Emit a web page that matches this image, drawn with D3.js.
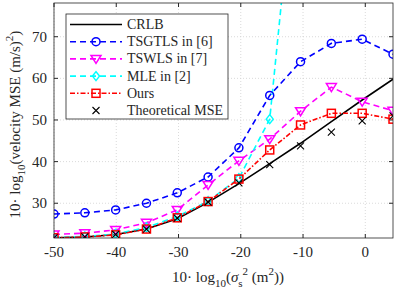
<!DOCTYPE html>
<html>
<head>
<meta charset="utf-8">
<script src="https://cdn.jsdelivr.net/npm/d3@7"></script>
<style>
  body { margin: 0; background: #fff; }
</style>
</head>
<body>
<div id="chart"></div>
<script>
// x positions of the simulation points (dB)
var xVals = [-50, -45.05, -40.1, -35.15, -30.2, -25.25, -20.3, -15.35, -10.4, -5.45, -0.5, 4.45]
var crlb = [21.7, 21.9, 22.5, 23.8, 26.3, 30.2, 34.7, 39.5, 44.4, 49.6, 54.8, 59.8]
var tsgtls = [27.4, 27.7, 28.4, 30.0, 32.5, 36.3, 43.3, 55.9, 64.0, 68.4, 69.4, 65.8]
var tswls = [22.5, 22.8, 23.6, 25.3, 28.4, 34.4, 40.2, 45.4, 52.1, 57.9, 54.4, 52.2]
var mle = [21.8, 22.0, 22.6, 24.2, 26.8, 30.5, 36.0, 50.2, 124, 130, 135, 140]
var ours = [21.7, 21.9, 22.4, 23.8, 26.5, 30.4, 35.8, 42.8, 48.8, 51.6, 51.6, 50.2]
var theo = [21.7, 21.9, 22.5, 23.8, 26.4, 30.3, 34.9, 39.3, 43.8, 47.1, 49.8, 51.0]
var xTicks = [-50, -40, -30, -20, -10, 0]
var yTicks = [30, 40, 50, 60, 70]

var FONT = "'Liberation Serif', 'Times New Roman', Times, 'DejaVu Serif', serif"
var W = 399, H = 291
var margin = {top: 3, right: 6, bottom: 53, left: 54}
var width = W - margin.left - margin.right
var height = H - margin.top - margin.bottom

var svg = d3.select('#chart').append('svg')
  .attr('width', W).attr('height', H)
  .attr('font-family', FONT)
var g = svg.append('g')
  .attr('transform', 'translate(' + margin.left + ',' + margin.top + ')')

var x = d3.scaleLinear().domain([-50, 4.45]).range([0, width])
var y = d3.scaleLinear().domain([21.65, 78.1]).range([height, 0])

// grid
g.selectAll('.gx').data(xTicks).enter().append('line')
  .attr('x1', d => x(d)).attr('x2', d => x(d)).attr('y1', 0).attr('y2', height)
  .attr('stroke', '#d0d0d0').attr('stroke-width', 0.8).attr('stroke-dasharray', '1,2')
g.selectAll('.gy').data(yTicks).enter().append('line')
  .attr('y1', d => y(d)).attr('y2', d => y(d)).attr('x1', 0).attr('x2', width)
  .attr('stroke', '#d0d0d0').attr('stroke-width', 0.8).attr('stroke-dasharray', '1,2')

// ticks, inward on all four sides
var tk = 4
xTicks.forEach(function(d) {
  g.append('line').attr('x1', x(d)).attr('x2', x(d)).attr('y1', height).attr('y2', height - tk).attr('stroke', '#262626')
  g.append('line').attr('x1', x(d)).attr('x2', x(d)).attr('y1', 0).attr('y2', tk).attr('stroke', '#262626')
  g.append('text').attr('x', x(d)).attr('y', height + 19).attr('text-anchor', 'middle')
    .attr('fill', '#262626').style('font-family', FONT).style('font-size', '15px').text(d)
})
yTicks.forEach(function(d) {
  g.append('line').attr('y1', y(d)).attr('y2', y(d)).attr('x1', 0).attr('x2', tk).attr('stroke', '#262626')
  g.append('line').attr('y1', y(d)).attr('y2', y(d)).attr('x1', width).attr('x2', width - tk).attr('stroke', '#262626')
  g.append('text').attr('x', -7).attr('y', y(d) + 5).attr('text-anchor', 'end')
    .attr('fill', '#262626').style('font-family', FONT).style('font-size', '15px').text(d)
})

svg.append('defs').append('clipPath').attr('id', 'clip')
  .append('rect').attr('width', width).attr('height', height)
var plot = g.append('g').attr('clip-path', 'url(#clip)')

var line = d3.line().x((d, i) => x(xVals[i])).y(d => y(d))

var series = [
  {name: 'CRLB', vals: crlb, color: '#000', dash: null, marker: null},
  {name: 'TSGTLS in [6]', vals: tsgtls, color: '#0000ff', dash: '6,4', marker: 'circle'},
  {name: 'TSWLS in [7]', vals: tswls, color: '#ff00ff', dash: '6,4', marker: 'tri'},
  {name: 'MLE in [2]', vals: mle, color: '#00ffff', dash: '6,4', marker: 'diamond'},
  {name: 'Ours', vals: ours, color: '#ff0000', dash: '5,2,1.5,2', marker: 'square'},
  {name: 'Theoretical MSE', vals: theo, color: '#000', dash: null, marker: 'x', noLine: true}
]

function drawMarker(sel, type, color) {
  if (type === 'circle') {
    sel.append('circle').attr('r', 4).attr('fill', 'none').attr('stroke', color).attr('stroke-width', 1.5)
  } else if (type === 'tri') {
    sel.append('path').attr('d', 'M-5,-3.5L5,-3.5L0,4.5Z').attr('fill', 'none').attr('stroke', color).attr('stroke-width', 1.5)
  } else if (type === 'diamond') {
    sel.append('path').attr('d', 'M0,-4.5L3.5,0L0,4.5L-3.5,0Z').attr('fill', 'none').attr('stroke', color).attr('stroke-width', 1.5)
  } else if (type === 'square') {
    sel.append('rect').attr('x', -4).attr('y', -4).attr('width', 8).attr('height', 8)
      .attr('fill', 'none').attr('stroke', color).attr('stroke-width', 1.5)
  } else if (type === 'x') {
    sel.append('path').attr('d', 'M-3.5,-3.5L3.5,3.5M-3.5,3.5L3.5,-3.5').attr('stroke', color).attr('stroke-width', 1.1)
  }
}

series.forEach(function(s) {
  if (!s.noLine) {
    plot.append('path').datum(s.vals).attr('d', line)
      .attr('fill', 'none').attr('stroke', s.color).attr('stroke-width', 1.6)
      .attr('stroke-dasharray', s.dash)
  }
})
series.forEach(function(s) {
  if (!s.marker) return
  var m = plot.selectAll(null).data(s.vals).enter().append('g')
    .attr('transform', (d, i) => 'translate(' + x(xVals[i]) + ',' + y(d) + ')')
  m.each(function() { drawMarker(d3.select(this), s.marker, s.color) })
})

// axes box
g.append('rect').attr('width', width).attr('height', height)
  .attr('fill', 'none').attr('stroke', '#262626').attr('stroke-width', 0.8)

// legend
var lg = svg.append('g').attr('transform', 'translate(66,14)')
lg.append('rect').attr('width', 162).attr('height', 105)
  .attr('fill', '#fff').attr('stroke', '#262626').attr('stroke-width', 0.8)
series.forEach(function(s, i) {
  var yy = 10.5 + i * 17.2
  if (!s.noLine) {
    lg.append('line').attr('x1', 4).attr('x2', 56).attr('y1', yy).attr('y2', yy)
      .attr('stroke', s.color).attr('stroke-width', 1.6).attr('stroke-dasharray', s.dash)
  }
  if (s.marker) {
    var m = lg.append('g').attr('transform', 'translate(30,' + yy + ')')
    drawMarker(m, s.marker, s.color)
  }
  lg.append('text').attr('x', 61).attr('y', yy + 4.5).attr('fill', '#262626')
    .style('font-family', FONT).style('font-size', '14px').text(s.name)
})

// x label
var xl = svg.append('text').attr('x', 228).attr('y', 282).attr('text-anchor', 'middle')
  .attr('fill', '#262626').style('font-family', FONT).style('font-size', '15px')
xl.append('tspan').text('10· log')
xl.append('tspan').attr('dy', 5).style('font-size', '11px').text('10')
xl.append('tspan').attr('dy', -5).text('(')
xl.append('tspan').style('font-style', 'italic').text('σ')
xl.append('tspan').attr('dy', 5).style('font-size', '11px').text('s')
xl.append('tspan').attr('dy', -12).style('font-size', '11px').text('2')
xl.append('tspan').attr('dy', 7).text(' (m')
xl.append('tspan').attr('dy', -7).style('font-size', '11px').text('2')
xl.append('tspan').attr('dy', 7).text('))')

// y label
var yl = svg.append('text').attr('transform', 'translate(20,' + (margin.top + height / 2 + 4) + ') rotate(-90)')
  .attr('text-anchor', 'middle').attr('fill', '#262626').style('font-family', FONT).style('font-size', '15px')
yl.append('tspan').text('10· log')
yl.append('tspan').attr('dy', 5).style('font-size', '11px').text('10')
yl.append('tspan').attr('dy', -5).text('(velocity MSE (m/s)')
yl.append('tspan').attr('dy', -7).style('font-size', '11px').text('2')
yl.append('tspan').attr('dy', 7).text(')')
</script>
</body>
</html>
